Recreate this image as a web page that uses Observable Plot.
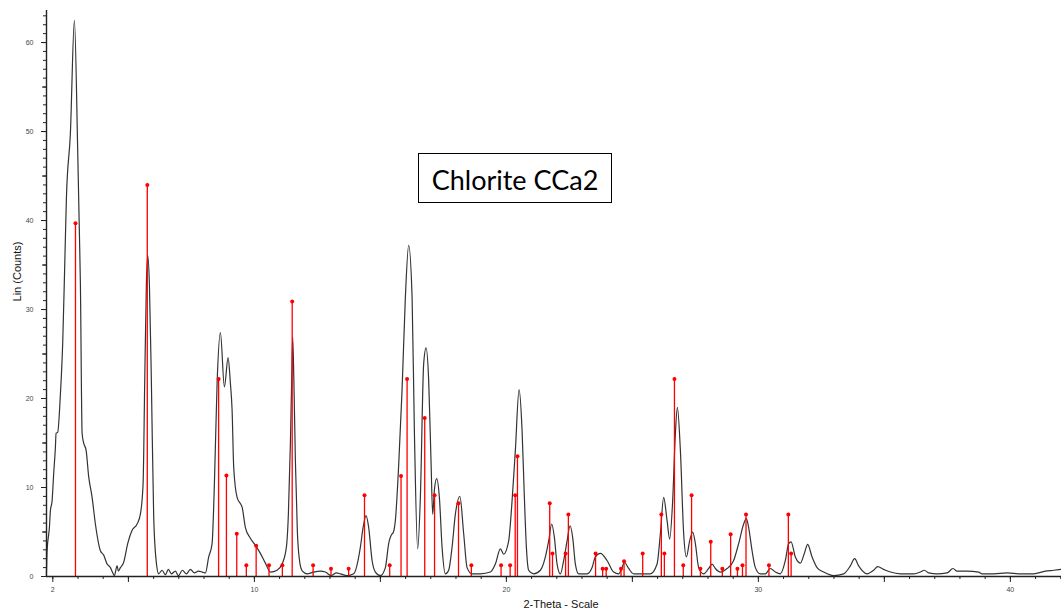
<!DOCTYPE html>
<html>
<head>
<meta charset="utf-8">
<script src="https://cdn.jsdelivr.net/npm/d3@7"></script>
<script src="https://cdn.jsdelivr.net/npm/@observablehq/plot@0.6"></script>
<style>
  html, body { margin: 0; padding: 0; background: #fff; }
  #wrap { position: relative; width: 1061px; height: 616px; overflow: hidden; }
  #box {
    position: absolute; left: 418px; top: 153px; width: 194px; height: 50px;
    box-sizing: border-box; border: 1.6px solid #000; background: #fff;
    font-family: Lato, "Open Sans", sans-serif; font-size: 27px; color: #000;
    display: flex; align-items: center; justify-content: center; padding-top: 2px;
  }
</style>
</head>
<body>
<div id="wrap"><div id="box">Chlorite CCa2</div></div>
<script>
// Measured scan (2-Theta, Lin counts)
const scanTheta = [1.746,1.774,1.865,1.905,1.972,2.036,2.103,2.131,2.194,2.302,2.393,2.472,2.540,2.698,2.857,2.988,3.056,3.095,3.163,3.226,3.321,3.425,3.560,3.690,3.889,4.020,4.155,4.286,4.365,4.444,4.552,4.603,4.683,4.813,4.972,5.147,5.345,5.476,5.583,5.647,5.714,5.766,5.833,5.913,6.004,6.111,6.202,
6.337,6.468,6.587,6.706,6.865,6.984,7.143,7.302,7.460,7.619,7.778,7.937,8.056,
8.187,8.321,8.413,8.520,8.651,8.810,8.956,9.048,9.115,9.179,9.313,9.444,9.512,9.643,9.841,10.040,10.238,10.437,10.635,10.901,11.099,11.270,11.349,11.429,11.480,11.520,11.567,11.627,11.706,11.806,11.905,12.091,12.353,12.619,12.817,13.044,13.254,13.413,13.679,13.940,14.206,14.313,14.433,14.536,14.671,14.802,15.0,15.198,15.329,15.464,15.504,15.595,15.726,15.861,15.992,16.123,16.258,16.349,16.480,16.587,16.718,16.813,16.917,17.012,17.075,17.143,17.234,17.341,17.448,17.579,17.710,17.845,17.976,18.155,18.306,18.440,18.639,18.968,19.365,19.563,19.762,19.893,20.091,20.226,20.357,20.504,20.623,20.714,20.794,20.885,21.083,21.349,21.548,21.679,21.798,21.905,22.012,22.143,22.274,22.409,22.528,22.631,22.738,22.869,23.202,23.401,23.532,23.730,23.996,24.258,24.456,24.591,24.683,24.853,25.052,25.714,25.980,26.111,26.242,26.377,26.480,26.599,26.706,26.786,26.905,27.036,27.143,27.274,27.393,27.500,27.631,27.829,28.028,28.163,28.294,28.492,28.758,29.020,29.218,29.417,29.524,29.615,29.750,29.881,30.079,30.278,30.476,30.675,30.873,31.071,31.202,31.298,31.468,31.599,31.667,31.825,31.956,32.131,32.329,32.591,32.988,33.385,33.651,33.821,33.980,34.313,34.575,34.734,34.972,35.238,35.635,36.163,36.429,36.587,36.758,37.091,37.488,37.726,37.885,38.282,38.742,38.877,39.337,39.869,40.397,40.925,41.389,41.718,42.024];
const scanCounts = [0,2.9,5.5,7.4,8.5,11.6,14.5,16.1,16.2,20.5,26.2,34.8,42.5,49.8,62.5,47.9,38.5,32.9,16.1,15.0,14.2,11.2,8.9,5.9,2.9,2.4,1.4,1.0,0.5,0.1,1.2,0.6,1.0,1.6,3.7,5.2,5.9,7.0,10.4,21.7,32.9,36.1,32.9,21.7,6.7,1.5,0.3,
0.7,0.2,0.8,0.3,0.6,0.1,0.7,0.3,0.8,0.4,0.6,0.5,0.4,
2.2,3.7,10.4,21.7,27.4,21.3,24.6,21.7,18.7,12.3,8.9,8.2,7.8,5.5,4.3,3.5,2.6,1.5,0.5,0.7,1.4,3.3,7.0,15.0,22.0,26.9,22.0,13.0,5.0,1.5,0.6,0.3,0.5,0.6,0.5,0.1,0.4,0.3,0.1,0.3,3.3,5.5,6.85,5.5,1.8,0.5,0.1,1.0,3.7,4.8,4.9,6.3,12.5,21.0,31.4,37.2,31.4,16.4,3.1,8.9,23.9,25.7,22.0,12.7,7.0,9.7,11.0,8.9,3.3,0.3,0.7,3.3,7.0,9.0,4.8,1.0,0.3,0.3,0.5,1.4,3.1,2.5,4.0,8.5,14.2,21.0,16.4,8.9,3.3,0.7,0.3,0.7,2.2,4.0,5.9,4.4,1.4,0.3,1.8,4.0,5.7,4.4,1.4,0.3,0.3,1.0,2.2,2.6,1.8,0.5,0.3,1.0,1.6,0.9,0.3,0.3,1.4,4.8,8.9,6.3,4.2,8.5,16.0,19.0,14.2,4.8,2.2,4.0,5.0,3.7,1.0,0.3,0.9,1.4,0.9,0.5,0.9,1.8,3.7,5.9,6.5,5.5,2.9,1.0,0.3,0.3,0.9,0.5,0.3,1.8,3.7,3.9,2.2,1.6,1.5,2.6,3.6,2.2,1.0,0.5,0.1,0.3,1.2,2.0,1.2,0.3,0.7,1.1,0.8,0.5,0.3,0.3,0.5,0.7,0.4,0.3,0.4,0.9,0.6,0.6,0.5,0.3,0.3,0.4,0.3,0.3,0.6,0.7,0.8];

// Reference pattern sticks (Chlorite CCa2)
const stickTheta = [2.90,5.75,8.58,8.89,9.30,9.68,10.07,10.58,11.11,11.50,12.33,13.04,13.74,14.37,15.37,15.82,16.06,16.76,17.15,18.10,18.61,19.79,20.15,20.35,20.44,21.72,21.83,22.35,22.46,23.54,23.82,23.96,24.55,24.67,25.41,26.15,26.27,26.67,27.02,27.35,27.70,28.11,28.57,28.90,29.17,29.37,29.51,30.42,31.19,31.30];
const stickCounts = [39.7,44.0,22.2,11.35,4.8,1.27,3.45,1.27,1.27,30.9,1.27,0.86,0.86,9.14,1.27,11.3,22.2,17.8,9.14,8.24,1.27,1.27,1.27,9.14,13.5,8.24,2.58,2.58,6.97,2.58,0.86,0.86,0.86,1.72,2.58,6.97,2.58,22.2,1.27,9.14,0.86,3.9,0.86,4.76,0.86,1.27,6.97,1.27,6.97,2.58];

const xTickLabels = [2, 10, 20, 30, 40];
const xMinorTicks = d3.range(2, 43, 1);
const xMajorTicks = [2, 5, 10, 15, 20, 25, 30, 35, 40];
const yTickLabels = [0, 10, 20, 30, 40, 50, 60];
const yMinorTicks = d3.range(0, 64, 1);
const yMidTicks = d3.range(0, 64, 5);
const xTitle = "2-Theta - Scale";
const yTitle = "Lin (Counts)";

const scan = scanTheta.map((t, i) => ({t, c: scanCounts[i]}));
const sticks = stickTheta.map((t, i) => ({t, c: stickCounts[i]}));
const xMin = 1.75;

const chart = Plot.plot({
  width: 1061, height: 616,
  marginLeft: 46, marginRight: 0, marginTop: 10, marginBottom: 40,
  x: {domain: [xMin, 42.03]},
  y: {domain: [0, 63.6]},
  style: {fontFamily: "'Liberation Sans', Arial, sans-serif", background: "transparent", overflow: "visible"},
  marks: [
    Plot.line(scan, {x: "t", y: "c", stroke: "#333", strokeWidth: 1.2, curve: "monotone-x"}),
    Plot.ruleX(sticks, {x: "t", y1: 0, y2: "c", stroke: "#ff0000", strokeWidth: 1.3}),
    Plot.dot(sticks, {x: "t", y: "c", r: 2, fill: "#ff0000", stroke: "none"}),
    Plot.ruleY([0], {stroke: "#222", strokeWidth: 1.4}),
    Plot.ruleX([xMin], {stroke: "#222", strokeWidth: 1.4}),
    Plot.axisX({ticks: xMinorTicks, tickSize: 3, tickFormat: () => "", label: null, stroke: "#222"}),
    Plot.axisX({ticks: xMajorTicks, tickSize: 6, tickFormat: () => "", label: null, stroke: "#222"}),
    Plot.axisX({ticks: xTickLabels, tickSize: 0, tickPadding: 11, fontSize: 7, fill: "#444", label: null}),
    Plot.axisY({ticks: yMinorTicks, tickSize: 3, tickFormat: () => "", label: null, stroke: "#222"}),
    Plot.axisY({ticks: yMidTicks, tickSize: 4, tickFormat: () => "", label: null, stroke: "#222"}),
    Plot.axisY({ticks: yTickLabels, tickSize: 5, tickPadding: 8, fontSize: 7, fill: "#444", label: null, stroke: "#222"}),
    Plot.text([xTitle], {frameAnchor: "bottom", dx: 7, dy: 31, fontSize: 11, fill: "#111"}),
    Plot.text([yTitle], {frameAnchor: "left", textAnchor: "middle", rotate: -90, dx: -29, dy: -22, fontSize: 11, fill: "#111"})
  ]
});
const wrap = document.getElementById("wrap");
chart.style.position = "absolute";
chart.style.left = "0";
chart.style.top = "0";
wrap.insertBefore(chart, wrap.firstChild);
</script>
</body>
</html>
